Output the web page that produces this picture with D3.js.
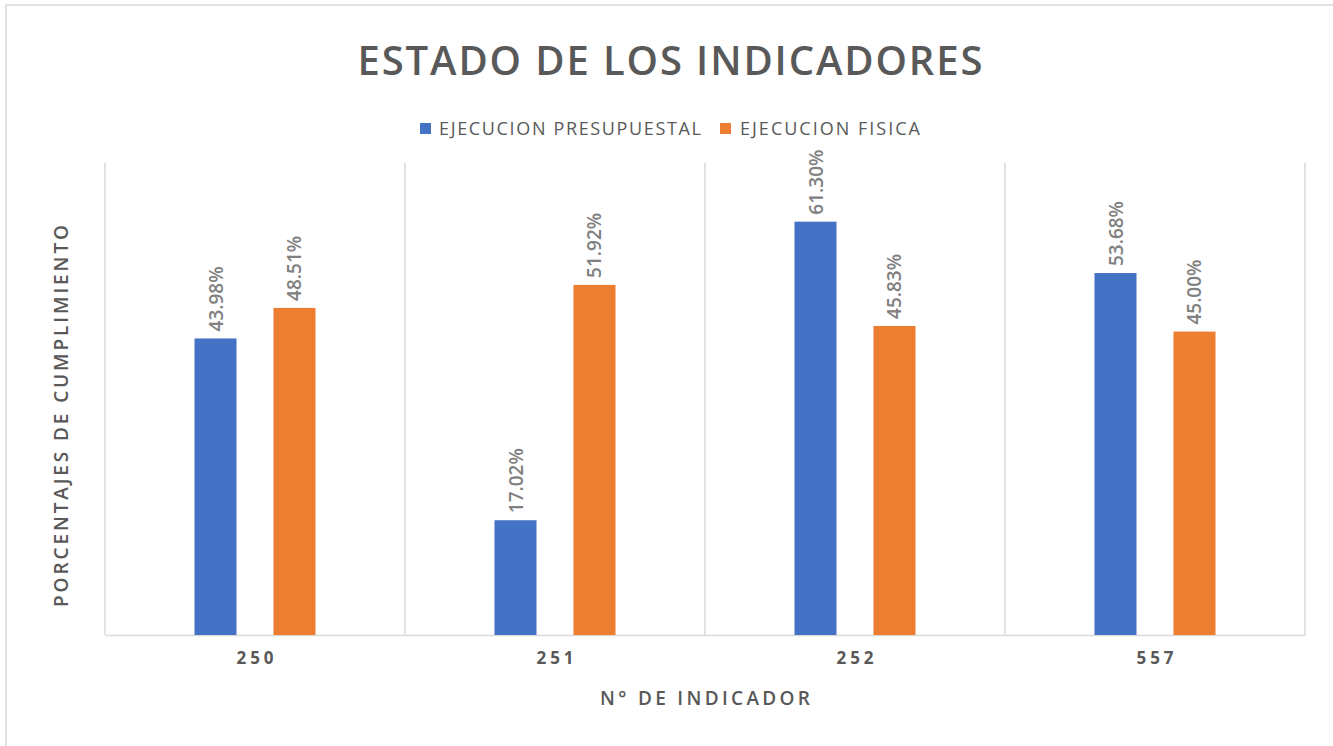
<!DOCTYPE html>
<html><head><meta charset="utf-8">
<script src="https://cdn.jsdelivr.net/npm/d3@7"></script>
<style>body{margin:0;background:#fff}svg{display:block}</style>
</head><body>
<svg id="c" width="1333" height="746"></svg>
<script>
const categories = ["250","251","252","557"];
const seriesNames = ["EJECUCION PRESUPUESTAL","EJECUCION FISICA"];
const presupuestal = [43.98, 17.02, 61.30, 53.68];
const fisica = [48.51, 51.92, 45.83, 45.00];
const colors = ["#4472c4","#ed7d31"];

const svg = d3.select("#c");
const font = "'Open Sans', sans-serif";
const m = {l:105, r:1305, t:163, b:635};

svg.append("rect").attr("x",6).attr("y",5).attr("width",1333).attr("height",760)
  .attr("fill","#fff").attr("stroke","#d9d9d9").attr("stroke-width",1.5);

const x = d3.scaleBand().domain(categories).range([m.l,m.r]).paddingInner(0).paddingOuter(0);
const x1 = d3.scaleBand().domain(seriesNames).range([0,x.bandwidth()]).paddingInner(0.468).paddingOuter(1.133);
const y = d3.scaleLinear().domain([0,70]).range([m.b,m.t]);

// vertical gridlines at category boundaries
const bounds = categories.map(c=>x(c)).concat([m.r]);
svg.append("g").selectAll("line").data(bounds).join("line")
  .attr("x1",d=>d).attr("x2",d=>d).attr("y1",m.t).attr("y2",m.b)
  .attr("stroke","#d9d9d9").attr("stroke-width",1.5);

// x axis
const xAxis = svg.append("g").attr("transform",`translate(0,${m.b})`)
  .call(d3.axisBottom(x).tickSize(0).tickPadding(17));
xAxis.select(".domain").attr("stroke","#d9d9d9").attr("stroke-width",1.5);
xAxis.selectAll("text").attr("font-family",font).attr("font-size",17).attr("font-weight",700)
  .attr("fill","#595959").attr("letter-spacing","4px").attr("dx","2px");

const data = seriesNames.map((s,i)=>({name:s, vals:(i===0?presupuestal:fisica)}));
const g = svg.append("g");
data.forEach((s,si)=>{
  const bars = g.selectAll(null).data(categories.map((c,ci)=>({c, v:s.vals[ci]}))).join("g");
  bars.append("rect")
    .attr("x",d=>x(d.c)+x1(s.name)).attr("width",x1.bandwidth())
    .attr("y",d=>y(d.v)).attr("height",d=>y(0)-y(d.v)).attr("fill",colors[si]);
  bars.append("text")
    .attr("transform",d=>`translate(${x(d.c)+x1(s.name)+x1.bandwidth()/2+7},${y(d.v)-7}) rotate(-90)`)
    .attr("font-family",font).attr("font-size",19).attr("font-weight",600).attr("fill","#808080")
    .text(d=>d.v.toFixed(2)+"%");
});

// title
svg.append("text").attr("x",670).attr("y",75).attr("text-anchor","middle")
  .attr("font-family",font).attr("font-size",40).attr("font-weight",600).attr("fill","#595959")
  .attr("textLength",625).attr("lengthAdjust","spacing")
  .text("ESTADO DE LOS INDICADORES");

// legend
const leg = [{x:420, tx:439, len:262},{x:720, tx:740, len:180}];
seriesNames.forEach((s,i)=>{
  svg.append("rect").attr("x",leg[i].x).attr("y",123).attr("width",11).attr("height",11).attr("fill",colors[i]);
  svg.append("text").attr("x",leg[i].tx).attr("y",135).attr("font-family",font).attr("font-size",18)
    .attr("fill","#595959").attr("textLength",leg[i].len).attr("lengthAdjust","spacing").text(s);
});

// axis titles
svg.append("text").attr("x",705).attr("y",705).attr("text-anchor","middle")
  .attr("font-family",font).attr("font-size",19).attr("font-weight",600).attr("fill","#595959")
  .attr("textLength",210).attr("lengthAdjust","spacing").text("N° DE INDICADOR");
svg.append("text").attr("transform","translate(68,416) rotate(-90)").attr("text-anchor","middle")
  .attr("font-family",font).attr("font-size",19).attr("font-weight",600).attr("fill","#595959")
  .attr("textLength",382).attr("lengthAdjust","spacing").text("PORCENTAJES DE CUMPLIMIENTO");
</script>
</body></html>
